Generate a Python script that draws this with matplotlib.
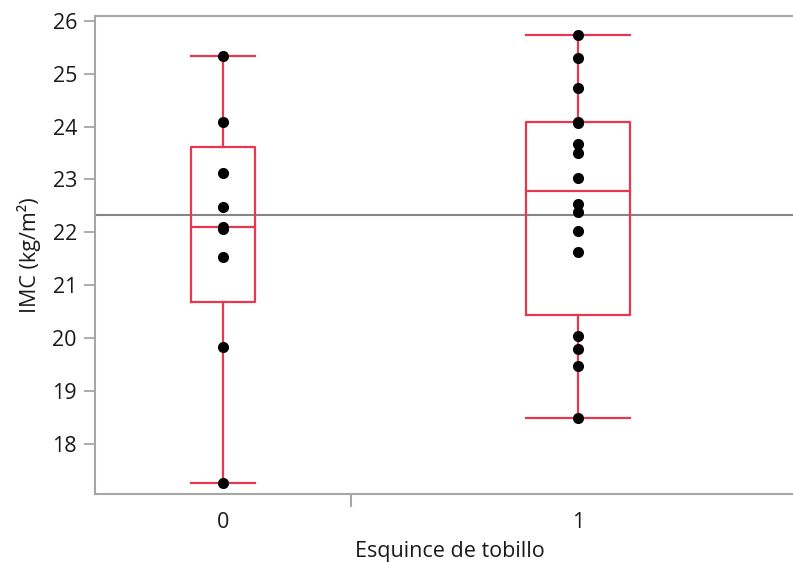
import numpy as np
import matplotlib.pyplot as plt

plt.rcParams['font.family'] = ['Open Sans', 'DejaVu Sans']

# IMC values per group of "Esquince de tobillo"
groups = ['0', '1']
imc_0 = [25.33, 24.09, 23.12, 22.48, 22.06, 22.10, 21.54, 19.83, 17.27]
imc_1 = [25.73, 25.29, 24.72, 24.07, 24.08, 23.67, 23.50, 23.03, 22.54,
         22.39, 22.03, 21.62, 20.04, 19.80, 19.47, 18.50]
data = [imc_0, imc_1]

box_color = '#e8384f'
axis_color = '#a6a6a6'
text_color = '#1a1a1a'


def jmp_quantile(vals, p):
    # quantile at position (n+1)p, as used for the boxes
    x = np.sort(vals)
    n = len(x)
    pos = (n + 1) * p
    lo = int(np.floor(pos))
    frac = pos - lo
    lo = min(max(lo, 1), n)
    hi = min(lo + 1, n)
    return x[lo - 1] + frac * (x[hi - 1] - x[lo - 1])


fig = plt.figure(figsize=(7.93, 5.62), dpi=100)
ax = fig.add_axes([95 / 793, 68 / 562, 710 / 793, 478 / 562])

# each group takes horizontal space proportional to its size
counts = np.array([len(d) for d in data])
edges = np.concatenate([[0], np.cumsum(counts)])
centers = (edges[:-1] + edges[1:]) / 2
box_widths = [2.25, 3.66]

for vals, c, w in zip(data, centers, box_widths):
    q1 = jmp_quantile(vals, 0.25)
    med = jmp_quantile(vals, 0.5)
    q3 = jmp_quantile(vals, 0.75)
    lo, hi = min(vals), max(vals)
    lw = 1.6
    ax.plot([c - w / 2, c + w / 2, c + w / 2, c - w / 2, c - w / 2],
            [q1, q1, q3, q3, q1], color=box_color, lw=lw, zorder=2)
    ax.plot([c - w / 2, c + w / 2], [med, med], color=box_color, lw=lw, zorder=2)
    ax.plot([c, c], [q3, hi], color=box_color, lw=lw, zorder=2)
    ax.plot([c, c], [lo, q1], color=box_color, lw=lw, zorder=2)
    ax.plot([c - w / 2, c + w / 2], [hi, hi], color=box_color, lw=lw, zorder=2)
    ax.plot([c - w / 2, c + w / 2], [lo, lo], color=box_color, lw=lw, zorder=2)
    ax.plot(np.full(len(vals), c), vals, 'o', color='black', ms=8,
            mec='none', zorder=3)

grand_mean = np.mean(np.concatenate(data))
ax.axhline(grand_mean, color='#858585', lw=1.5, zorder=1)

ax.set_xlim(edges[0], edges[-1])
ax.set_ylim(17.055, 26.09)
ax.set_yticks(range(18, 27))
ax.set_xticks(centers)
ax.set_xticklabels(groups)
ax.set_xticks(edges[1:-1], minor=True)

for s in ['left', 'bottom', 'top', 'right']:
    ax.spines[s].set_color(axis_color)
    ax.spines[s].set_linewidth(1.5)

ax.tick_params(axis='y', length=8, width=1.3, color=axis_color, labelsize=15.5,
               pad=5, labelcolor=text_color)
ax.tick_params(axis='x', which='major', length=0, labelsize=15.5, pad=13,
               labelcolor=text_color)
ax.tick_params(axis='x', which='minor', length=9, width=1.5, color=axis_color)

ax.set_ylabel('IMC (kg/m²)', fontsize=15.5, color=text_color, labelpad=8)
ax.set_xlabel('Esquince de tobillo', fontsize=15.5, color=text_color, labelpad=6)

fig.savefig('out.png', dpi=100)
